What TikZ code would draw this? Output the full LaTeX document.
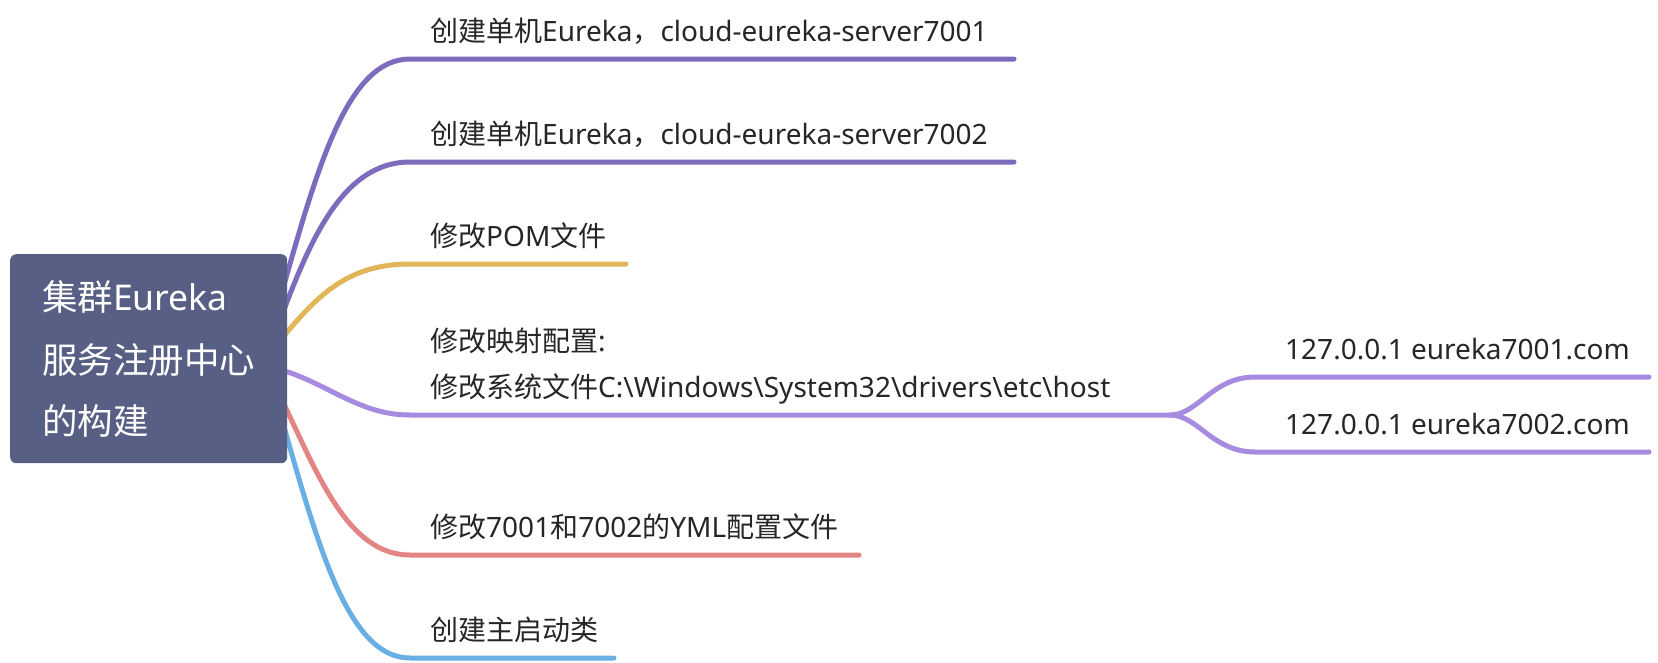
\documentclass[tikz,border=0pt]{standalone}
\usepackage{fontspec}
\setmainfont{Noto Sans}
\newfontfamily\cjk{Noto Sans CJK SC}
\definecolor{rootc}{HTML}{585F84}
\definecolor{purpd}{HTML}{7E6BBD}
\definecolor{purpl}{HTML}{A68BE0}
\definecolor{yell}{HTML}{E1B658}
\definecolor{redc}{HTML}{E38585}
\definecolor{bluec}{HTML}{6AAFE3}
\definecolor{txt}{HTML}{262626}
\begin{document}
\begin{tikzpicture}[x=1pt,y=-1pt,
  br/.style={line width=5pt,line cap=round},
  lab/.style={anchor=base west,inner sep=0pt,text=txt,font=\fontsize{28}{34}\selectfont},
  rlab/.style={anchor=base west,inner sep=0pt,text=white,font=\fontsize{35.5}{42}\selectfont}]
\useasboundingbox (0,0) rectangle (1658,662);
% coordinates for connector ends
\coordinate (s1) at (282,292);
\coordinate (s2) at (282,315);
\coordinate (s3) at (282,338);
\coordinate (s4) at (282,370);
\coordinate (s5) at (282,400);
\coordinate (s6) at (282,420);
\coordinate (h1) at (410,59);   \coordinate (e1) at (1014,59);
\coordinate (h2) at (410,162);  \coordinate (e2) at (1014,162);
\coordinate (h3) at (410,264);  \coordinate (e3) at (626,264);
\coordinate (h4) at (410,415);  \coordinate (fork) at (1170,415);
\coordinate (h5) at (410,555);  \coordinate (e5) at (859,555);
\coordinate (h6) at (410,658);  \coordinate (e6) at (614,658);
\coordinate (ha) at (1255,377); \coordinate (ea) at (1649,377);
\coordinate (hb) at (1255,452); \coordinate (eb) at (1649,452);
% connectors
\draw[br,purpd] (s1) .. controls (318,165) and (348,59) .. (h1) -- (e1);
\draw[br,purpd] (s2) .. controls (312,235) and (345,162) .. (h2) -- (e2);
\draw[br,yell]  (s3) .. controls (318,295) and (348,264) .. (h3) -- (e3);
\draw[br,purpl] (s4) .. controls (330,385) and (360,415) .. (h4) -- (fork);
\draw[br,purpl] (fork) .. controls (1198,415) and (1212,377) .. (ha) -- (ea);
\draw[br,purpl] (fork) .. controls (1198,415) and (1212,452) .. (hb) -- (eb);
\draw[br,redc]  (s5) .. controls (318,475) and (348,555) .. (h5) -- (e5);
\draw[br,bluec] (s6) .. controls (318,545) and (348,658) .. (h6) -- (e6);
% root
\node[fill=rootc,rounded corners=6pt,minimum width=277pt,minimum height=209pt,anchor=north west,inner sep=0pt] (root) at (10,254) {};
\node[rlab] (r1) at (42,310.5) {{\cjk 集群}Eureka};
\node[rlab] (r2) at (42,373.5) {\cjk 服务注册中心};
\node[rlab] (r3) at (42,434) {\cjk 的构建};
% labels
\node[lab] (t1) at (430,41) {{\cjk 创建单机}Eureka{\cjk ，}cloud-eureka-server7001};
\node[lab] (t2) at (430,144) {{\cjk 创建单机}Eureka{\cjk ，}cloud-eureka-server7002};
\node[lab] (t3) at (430,246) {{\cjk 修改}POM{\cjk 文件}};
\node[lab] (t4a) at (430,351) {{\cjk 修改映射配置}:};
\node[lab] (t4b) at (430,397) {{\cjk 修改系统文件}C:\textbackslash Windows\textbackslash System32\textbackslash drivers\textbackslash etc\textbackslash host};
\node[lab] (ta) at (1285,359) {127.0.0.1 eureka7001.com};
\node[lab] (tb) at (1285,434) {127.0.0.1 eureka7002.com};
\node[lab] (t5) at (430,537) {{\cjk 修改}7001{\cjk 和}7002{\cjk 的}YML{\cjk 配置文件}};
\node[lab] (t6) at (430,640) {\cjk 创建主启动类};
\end{tikzpicture}
\end{document}
